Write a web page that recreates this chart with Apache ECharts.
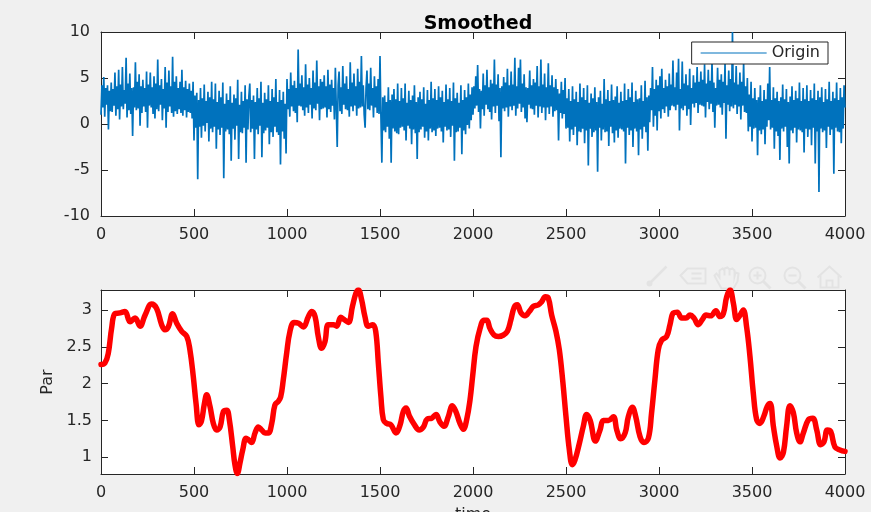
<!DOCTYPE html>
<html>
<head>
<meta charset="utf-8">
<script src="https://cdn.jsdelivr.net/npm/echarts@6/dist/echarts.min.js"></script>
<style>
  html, body { margin: 0; padding: 0; background: #f0f0f0; }
  #chart { width: 871px; height: 518px; }
</style>
</head>
<body>
<div id="chart"></div>
<script>
// Raw signal, one reading every 5 samples
const originStep = 5;
const originValues = [
  1.0, 4.2, 1.8, 5.1, 0.8, 3.9, 2.1, 4.2, -0.6, 3.6, 1.4, 4.5, 1.3, 3.8, 2.0, 5.6, 0.9, 4.1, 1.6, 5.9,
  0.5, 4.3, 1.9, 6.2, 1.6, 3.7, 2.2, 7.2, 0.7, 4.4, 1.5, 5.5, 1.1, 3.9, -1.3, 4.0, 1.8, 6.7, 1.5, 4.6,
  1.7, 5.4, -0.2, 4.1, 1.2, 4.8, 1.9, 3.9, 1.3, 5.7, -0.4, 4.3, 2.0, 5.6, 1.8, 4.0, 1.1, 5.2, 0.6, 4.4,
  1.6, 7.0, 1.4, 4.2, 2.1, 4.9, 0.4, 3.8, 1.7, 6.2, -0.4, 4.5, 1.3, 5.8, 1.9, 4.1, 1.2, 7.3, 0.8, 4.6,
  1.4, 5.2, 1.1, 3.9, 1.6, 4.6, 1.2, 5.9, 0.9, 4.0, 1.5, 4.7, 0.7, 3.8, 1.3, 4.4, 1.2, 3.6, 0.6, 4.6,
  -1.8, 3.1, -0.4, 3.4, -6.0, 2.6, -0.3, 3.9, -1.5, 2.8, -0.2, 4.3, -0.8, 2.5, 0.1, 3.5, -1.9, 2.9, -0.5, 4.6,
  -0.9, 2.7, -0.3, 4.4, -2.7, 2.4, -0.6, 3.6, -1.2, 2.9, -0.4, 4.5, -5.9, 2.2, -0.8, 3.3, -0.6, 2.6, -1.1, 4.1,
  -4.0, 2.3, -0.5, 3.2, -1.7, 2.8, -0.2, 4.8, -3.8, 2.1, -0.9, 3.5, -1.0, 2.5, -0.4, 4.2, -4.2, 2.7, -0.6, 3.0,
  4.4, -0.9, 2.6, -0.5, 3.1, -3.8, 2.4, -0.6, 3.9, -1.1, 2.8, -0.2, 4.6, -3.6, 2.3, -1.0, 3.4, -0.7, 2.7, -0.4,
  4.2, -2.2, 2.5, -0.9, 3.8, -1.4, 2.9, -0.3, 4.9, -0.9, 2.4, -1.2, 3.7, -4.4, 2.6, -0.8, 3.5, -1.6, 2.2, -3.2,
  4.9, 1.6, 3.8, 0.8, 5.6, 1.9, 4.2, 1.4, 4.7, 1.2, 3.9, 0.2, 8.1, 2.0, 4.4, 1.9, 5.3, 1.5, 4.0, 0.9,
  6.5, 1.8, 4.3, 1.2, 5.0, 2.1, 3.9, 0.6, 5.8, 1.7, 4.5, 1.5, 6.9, 2.2, 4.1, 0.4, 4.9, 1.6, 4.6, 1.7,
  5.3, 1.8, 4.1, 0.7, 5.9, 1.6, 4.3, 1.3, 4.8, 2.0, 3.9, 0.5, 6.1, 1.7, -2.5, 4.2, 5.7, 1.4, 4.0, 1.1,
  6.3, 2.1, 4.4, 1.6, 5.2, 1.5, 3.8, 0.8, 6.7, 1.9, 4.5, 1.4, 5.5, 2.0, 4.1, 0.9, 6.0, 1.7, 4.6, 1.8,
  7.4, 1.9, 4.2, 1.0, -0.4, 3.9, 5.8, 1.6, 4.4, 1.5, 6.1, 2.0, 3.9, 0.7, 5.2, 1.8, 4.1, 1.2, 4.9, 1.1,
  7.4, 0.8, -4.2, 2.9, -0.7, 3.1, -0.9, 2.4, -0.3, 4.0, -1.6, 2.6, -4.2, 3.2, -0.5, 3.8, -0.8, 2.7, -1.0, 4.4,
  -1.1, 2.5, -0.4, 3.9, -0.3, 2.8, -0.7, 4.4, -1.8, 2.3, -0.2, 3.6, -0.5, 2.6, -2.2, 3.1, -0.6, 4.2, -1.0, 2.4,
  -3.8, 2.9, -0.9, 3.5, -0.6, 2.7, -0.3, 4.0, -1.5, 2.2, -0.8, 3.7, -1.8, 2.6, -0.5, 4.6, -0.9, 2.8, -0.7, 3.8,
  -1.3, 2.6, -0.5, 4.1, -0.4, 2.9, -0.8, 3.6, -2.0, 2.4, -0.3, 4.3, -0.7, 2.7, -0.6, 3.9, -1.4, 2.5, -0.2, 4.5,
  -4.0, 2.8, -0.9, 3.4, -0.8, 2.3, -0.4, 4.2, -3.3, 2.6, -0.7, 3.7, -1.1, 2.9, -0.1, 4.4, -0.5, 3.2, 0.4, 4.0,
  1.0, 4.1, 1.7, 5.2, 2.0, 6.4, 1.3, 3.8, -0.5, 3.6, 1.6, 5.5, 0.9, 4.2, 2.1, 5.9, 1.6, 4.0, 1.3, 4.8,
  0.5, 4.4, 1.9, 7.0, 1.2, 4.3, 2.0, 5.4, 0.3, 3.9, -3.6, 4.1, 1.7, 5.1, 1.4, 4.5, 1.8, 6.0, 0.8, 4.2,
  1.9, 5.7, 1.5, 4.3, 2.0, 7.2, 0.9, 4.1, 1.7, 6.1, 2.2, 7.0, 1.3, 4.4, 1.8, 5.4, 0.6, 4.0, 0.2, 3.9,
  2.1, 5.8, 1.7, 4.2, 1.6, 4.9, 1.0, 4.5, 2.0, 6.3, 0.7, 4.1, 1.9, 7.0, 1.2, 4.3, 1.8, 5.5, 0.4, 4.0,
  1.8, 6.6, 1.1, 4.2, 1.9, 5.3, 0.8, 4.0, 1.4, 4.9, 1.5, 3.8, -1.8, 3.3, 1.2, 4.6, 0.6, 3.7, 1.1, 5.0,
  -0.5, 2.8, -0.4, 3.8, -1.9, 2.5, -0.6, 4.1, -1.2, 2.7, -0.3, 3.5, -2.3, 2.4, -0.8, 4.4, -0.9, 2.9, -0.5, 3.9,
  -2.1, 2.6, -0.7, 4.2, -4.5, 2.3, -0.5, 3.3, -1.4, 2.8, -0.9, 4.0, -0.7, 2.4, -5.2, 2.9, -0.4, 3.6, -1.8, 2.2,
  -0.6, 4.9, -0.9, 2.7, -0.8, 3.7, -2.4, 2.5, -0.3, 4.3, -1.0, 2.6, -2.0, 3.0, -0.7, 4.1, -1.5, 2.3, -0.5, 3.5,
  -0.6, 2.5, -0.8, 4.4, -4.3, 2.6, -0.4, 3.8, -1.2, 2.9, -0.7, 4.5, -2.5, 2.4, -0.5, 3.6, -0.8, 2.7, -3.4, 2.8,
  -0.6, 4.2, -1.6, 2.5, -0.3, 4.7, -0.9, 2.9, -2.9, 3.1, 0.2, 3.9, 1.5, 6.2, -0.3, 3.8, 0.9, 4.8, -0.7, 4.2,
  1.4, 5.2, 0.6, 6.0, 1.6, 3.9, 1.2, 4.8, 1.9, 4.1, 0.8, 5.5, 1.5, 4.3, 2.0, 6.9, 1.9, 4.0, 1.5, 5.6,
  2.1, 7.1, -0.7, 3.8, 1.7, 6.8, 1.5, 4.4, 2.0, 5.4, 0.9, 4.2, 1.6, 6.0, -0.1, 3.9, 2.2, 5.3, 1.8, 4.5,
  2.3, 6.2, 1.2, 4.6, 2.1, 5.7, 2.0, 4.8, 1.9, 6.5, 0.7, 4.4, 2.4, 5.9, 1.6, 4.7, 2.2, 6.8, 1.3, 4.5,
  -0.4, 3.9, 2.0, 6.1, 2.1, 4.8, 1.8, 5.4, 1.0, 4.6, 2.3, 6.6, -1.6, 4.2, 2.1, 5.8, 1.4, 4.9, 1.9, 10.0,
  1.7, 4.5, 2.1, 6.3, 1.1, 4.3, 1.9, 5.6, 0.5, 4.6, 2.0, 6.7, 1.3, 4.1, 1.2, 5.0, -0.8, 3.2, -0.3, 4.6,
  -1.9, 2.8, -0.5, 3.9, -0.4, 2.6, -3.4, 2.9, -0.7, 4.2, -1.1, 2.5, -0.6, 3.7, -2.2, 2.7, -0.3, 4.4, 0.4, 6.2,
  -0.6, 2.6, -0.4, 4.0, -2.7, 2.8, -0.8, 3.5, -1.3, 2.5, -3.9, 2.9, -0.5, 4.3, -0.8, 2.7, -0.3, 3.8, -2.5, 2.4,
  -4.3, 3.0, -0.7, 4.1, -1.0, 2.6, -0.4, 3.6, -2.0, 2.8, -0.6, 4.5, -0.7, 2.5, -0.9, 3.9, -3.1, 2.7, -0.5, 4.2,
  -1.4, 2.5, -0.6, 3.7, -2.3, 2.8, -0.4, 4.4, -4.3, 2.6, -0.8, 3.6, -7.4, 2.9, -0.5, 4.0, -0.9, 2.4, -0.7, 3.8,
  -2.6, 2.7, -0.3, 4.6, -1.2, 2.5, -0.6, 3.5, -5.4, 2.8, -0.4, 4.5, -0.8, 2.6, -0.9, 3.9, -2.1, 2.9, -0.5, 4.2,
  1.8
];

// Smoothed parameter curve
const parTime = [
  0, 21, 39, 57, 75, 102, 129, 156, 183, 210, 237, 272, 299, 326, 344, 362, 385, 407, 434, 461,
  478, 496, 511, 527, 540, 556, 568, 586, 604, 622, 640, 658, 676, 690, 708, 720, 733, 747, 762, 780,
  792, 810, 828, 846, 864, 882, 900, 918, 935, 953, 966, 980, 998, 1016, 1038, 1062, 1088, 1115, 1133, 1151,
  1168, 1186, 1204, 1222, 1249, 1267, 1289, 1307, 1330, 1352, 1371, 1384, 1401, 1419, 1437, 1461, 1477, 1491, 1505, 1518,
  1536, 1559, 1586, 1608, 1625, 1640, 1658, 1683, 1711, 1733, 1754, 1778, 1801, 1822, 1844, 1867, 1889, 1908, 1930, 1948,
  1966, 1984, 1998, 2016, 2038, 2059, 2074, 2091, 2113, 2137, 2164, 2185, 2203, 2222, 2238, 2258, 2280, 2303, 2325, 2351,
  2369, 2389, 2405, 2423, 2446, 2464, 2482, 2500, 2518, 2534, 2548, 2572, 2593, 2611, 2630, 2658, 2683, 2701, 2728, 2755,
  2773, 2794, 2818, 2835, 2857, 2875, 2898, 2919, 2943, 2960, 2978, 2996, 3014, 3041, 3059, 3077, 3098, 3122, 3145, 3167,
  3188, 3211, 3233, 3253, 3278, 3306, 3328, 3346, 3364, 3382, 3400, 3418, 3436, 3453, 3471, 3489, 3507, 3525, 3543, 3564,
  3582, 3597, 3615, 3633, 3651, 3669, 3686, 3704, 3722, 3740, 3758, 3776, 3803, 3827, 3848, 3869, 3887, 3905, 3923, 3946,
  3973, 4000
];
const parValue = [
  2.26, 2.28, 2.41, 2.75, 2.95, 2.96, 2.98, 2.84, 2.89, 2.78, 2.93, 3.08, 3.02, 2.80, 2.73, 2.77, 2.95, 2.82, 2.71, 2.64,
  2.46, 2.10, 1.73, 1.44, 1.49, 1.73, 1.85, 1.69, 1.46, 1.37, 1.41, 1.62, 1.64, 1.51, 1.15, 0.90, 0.78, 0.92, 1.10, 1.26,
  1.24, 1.20, 1.33, 1.41, 1.37, 1.33, 1.33, 1.46, 1.71, 1.76, 1.82, 2.05, 2.41, 2.71, 2.83, 2.82, 2.77, 2.91, 2.98, 2.91,
  2.64, 2.48, 2.57, 2.80, 2.80, 2.78, 2.90, 2.87, 2.83, 3.05, 3.23, 3.27, 3.14, 2.91, 2.78, 2.80, 2.71, 2.28, 1.82, 1.51,
  1.46, 1.44, 1.33, 1.44, 1.62, 1.67, 1.56, 1.45, 1.37, 1.41, 1.52, 1.53, 1.58, 1.48, 1.42, 1.55, 1.70, 1.62, 1.46, 1.38,
  1.51, 1.78, 2.10, 2.50, 2.75, 2.86, 2.86, 2.75, 2.66, 2.64, 2.66, 2.71, 2.86, 3.04, 3.07, 2.96, 2.92, 2.98, 3.05, 3.07,
  3.11, 3.18, 3.16, 2.93, 2.71, 2.46, 2.05, 1.55, 1.10, 0.90, 0.96, 1.19, 1.42, 1.58, 1.50, 1.22, 1.37, 1.50, 1.50, 1.55,
  1.37, 1.25, 1.33, 1.55, 1.68, 1.55, 1.28, 1.20, 1.26, 1.60, 2.05, 2.46, 2.59, 2.64, 2.80, 2.96, 2.97, 2.89, 2.89, 2.93,
  2.89, 2.80, 2.87, 2.93, 2.92, 2.99, 2.91, 2.95, 3.18, 3.27, 3.09, 2.87, 2.93, 3.00, 2.77, 2.37, 1.87, 1.51, 1.46, 1.56,
  1.69, 1.73, 1.42, 1.15, 0.99, 1.07, 1.42, 1.70, 1.61, 1.33, 1.21, 1.33, 1.51, 1.53, 1.37, 1.17, 1.21, 1.37, 1.35, 1.14,
  1.10, 1.08
];

// Axis ticks
const timeTicks = [0, 500, 1000, 1500, 2000, 2500, 3000, 3500, 4000];
const originTicks = [-10, -5, 0, 5, 10];
const parTicks = [1, 1.5, 2, 2.5, 3];

const ink = '#262626';
const font = 'DejaVu Sans';

const originData = originValues.map((v, i) => [i * originStep, v]);
const parData = parTime.map((t, i) => [t, parValue[i]]);

function boxAxis(base, showLabels) {
  return Object.assign({
    type: 'value',
    axisLine: { show: true, onZero: false, lineStyle: { color: ink, width: 1 } },
    axisTick: { show: true, inside: true, length: 7, lineStyle: { color: ink } },
    axisLabel: {
      show: showLabels, color: ink, fontSize: 16, fontFamily: font, margin: 11,
      formatter: (v) => String(v)
    },
    splitLine: { show: false }
  }, base);
}

const chart = echarts.init(document.getElementById('chart'), null, { renderer: 'canvas' });

const iconColor = '#e3e3e3';

chart.setOption({
  backgroundColor: '#f0f0f0',
  animation: false,
  title: {
    text: 'Smoothed',
    left: 473,
    textAlign: 'center',
    top: 10,
    textStyle: { fontFamily: font, fontWeight: 'bold', fontSize: 19, color: '#000' }
  },
  legend: {
    data: ['Origin'],
    icon: 'rect',
    right: 43,
    top: 42,
    padding: [3, 8, 3, 9],
    itemWidth: 66,
    itemHeight: 1,
    itemGap: 4,
    backgroundColor: '#fff',
    borderColor: ink,
    borderWidth: 1,
    textStyle: { fontFamily: font, fontSize: 16, color: ink }
  },
  grid: [
    { left: 101, top: 32, width: 744, height: 184, show: true, backgroundColor: '#fff', borderWidth: 0, outerBoundsMode: 'none', containLabel: false },
    { left: 101, top: 290, width: 744, height: 184, show: true, backgroundColor: '#fff', borderWidth: 0, outerBoundsMode: 'none', containLabel: false }
  ],
  xAxis: [
    boxAxis({ gridIndex: 0, min: timeTicks[0], max: timeTicks[timeTicks.length - 1], interval: 500 }, true),
    boxAxis({ gridIndex: 0, position: 'top', min: 0, max: 4000, interval: 500 }, false),
    boxAxis({
      gridIndex: 1, min: 0, max: 4000, interval: 500,
      name: 'time', nameLocation: 'middle', nameGap: 33,
      nameTextStyle: { fontFamily: font, fontSize: 16, color: ink }
    }, true),
    boxAxis({ gridIndex: 1, position: 'top', min: 0, max: 4000, interval: 500 }, false)
  ],
  yAxis: [
    boxAxis({ gridIndex: 0, min: originTicks[0], max: originTicks[originTicks.length - 1], interval: 5 }, true),
    boxAxis({ gridIndex: 0, position: 'right', min: -10, max: 10, interval: 5 }, false),
    (function () {
      const a = boxAxis({
        gridIndex: 1, min: 0.773, max: 3.271,
        name: 'Par', nameLocation: 'middle', nameGap: 45, nameRotate: 90,
        nameTextStyle: { fontFamily: font, fontSize: 16, color: ink }
      }, true);
      a.axisLabel.margin = 9;
      a.axisTick.customValues = parTicks;
      a.axisLabel.customValues = parTicks;
      return a;
    })(),
    (function () {
      const a = boxAxis({ gridIndex: 1, position: 'right', min: 0.773, max: 3.271 }, false);
      a.axisTick.customValues = parTicks;
      return a;
    })()
  ],
  series: [
    {
      name: 'Origin',
      type: 'line',
      xAxisIndex: 0,
      yAxisIndex: 0,
      data: originData,
      symbol: 'none',
      sampling: null,
      lineStyle: { color: '#0072BD', width: 1.7 },
      itemStyle: { color: '#0072BD' },
      clip: true,
      z: 2
    },
    {
      name: 'Par',
      type: 'line',
      xAxisIndex: 2,
      yAxisIndex: 2,
      data: parData,
      symbol: 'none',
      smooth: 0.4,
      lineStyle: { color: '#ff0000', width: 5.5, cap: 'round', join: 'round' },
      clip: true,
      z: 2
    }
  ],
  graphic: [
    // faint axes toolbar above the lower plot
    { type: 'group', left: 646, top: 264, silent: true, children: [
      { type: 'line', shape: { x1: 3, y1: 20, x2: 21, y2: 2 }, style: { stroke: iconColor, lineWidth: 2.5 } },
      { type: 'circle', shape: { cx: 4, cy: 19, r: 3 }, style: { fill: iconColor } }
    ]},
    { type: 'group', left: 678, top: 266, silent: true, children: [
      { type: 'polygon', shape: { points: [[0, 8], [7, 1], [25, 1], [25, 16], [7, 16]] }, style: { fill: 'none', stroke: iconColor, lineWidth: 2 } },
      { type: 'line', shape: { x1: 11, y1: 6, x2: 21, y2: 6 }, style: { stroke: iconColor, lineWidth: 2 } },
      { type: 'line', shape: { x1: 11, y1: 11, x2: 21, y2: 11 }, style: { stroke: iconColor, lineWidth: 2 } }
    ]},
    { type: 'group', left: 712, top: 265, silent: true, children: [
      { type: 'polyline', shape: { points: [[4, 12], [2, 8], [4, 6], [7, 10], [7, 3], [10, 1], [12, 3], [12, 8], [12, 1], [15, 0], [17, 2], [17, 8], [17, 2], [20, 1], [22, 3], [22, 9], [23, 5], [26, 6], [25, 14], [21, 21], [9, 21], [4, 12]] }, style: { fill: 'none', stroke: iconColor, lineWidth: 2 } }
    ]},
    { type: 'group', left: 747, top: 265, silent: true, children: [
      { type: 'circle', shape: { cx: 9, cy: 9, r: 8 }, style: { fill: 'none', stroke: iconColor, lineWidth: 2 } },
      { type: 'line', shape: { x1: 15, y1: 15, x2: 22, y2: 22 }, style: { stroke: iconColor, lineWidth: 3 } },
      { type: 'line', shape: { x1: 5, y1: 9, x2: 13, y2: 9 }, style: { stroke: iconColor, lineWidth: 2 } },
      { type: 'line', shape: { x1: 9, y1: 5, x2: 9, y2: 13 }, style: { stroke: iconColor, lineWidth: 2 } }
    ]},
    { type: 'group', left: 782, top: 265, silent: true, children: [
      { type: 'circle', shape: { cx: 9, cy: 9, r: 8 }, style: { fill: 'none', stroke: iconColor, lineWidth: 2 } },
      { type: 'line', shape: { x1: 15, y1: 15, x2: 22, y2: 22 }, style: { stroke: iconColor, lineWidth: 3 } },
      { type: 'line', shape: { x1: 5, y1: 9, x2: 13, y2: 9 }, style: { stroke: iconColor, lineWidth: 2 } }
    ]},
    { type: 'group', left: 815, top: 264, silent: true, children: [
      { type: 'polyline', shape: { points: [[1, 12], [13, 1], [25, 12]] }, style: { fill: 'none', stroke: iconColor, lineWidth: 2 } },
      { type: 'polyline', shape: { points: [[4, 10], [4, 22], [22, 22], [22, 10]] }, style: { fill: 'none', stroke: iconColor, lineWidth: 2 } },
      { type: 'polyline', shape: { points: [[10, 22], [10, 15], [16, 15], [16, 22]] }, style: { fill: 'none', stroke: iconColor, lineWidth: 2 } }
    ]},
    // white strip along the bottom edge of the figure
    { type: 'rect', left: 0, top: 512, z: 100, silent: true, shape: { width: 871, height: 6 }, style: { fill: '#fff' } }
  ]
});
</script>
</body>
</html>
